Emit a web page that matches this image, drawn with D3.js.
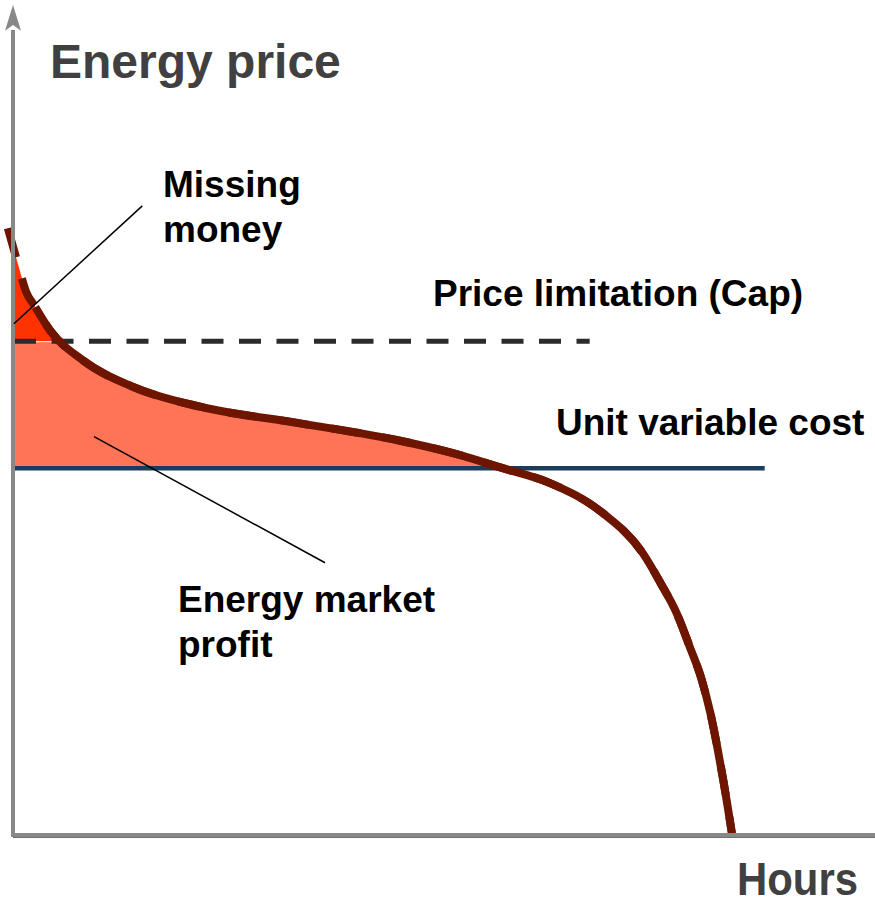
<!DOCTYPE html>
<html>
<head>
<meta charset="utf-8">
<script src="https://cdn.jsdelivr.net/npm/d3@7"></script>
<style>
  body { margin: 0; background: #fff; }
  text { font-family: "Liberation Sans", Arial, sans-serif; font-weight: bold; }
</style>
</head>
<body>
<svg id="chart" width="875" height="900"></svg>
<script>
// Price duration curve (hours on x, price on y, both in arbitrary 0-100 units)
var hours = [-0.6, 0.6, 1.5, 2.6, 4.3, 8.1, 13.9, 21.7, 33.3, 44.9, 50.7, 56.8, 62.3, 68.4, 73.1, 75.1, 77.0, 78.5, 79.9, 80.9, 81.7, 82.4, 83.4];
var price = [73.1, 68.7, 65.5, 63.6, 60.8, 57.2, 54.0, 51.6, 49.6, 47.5, 46.1, 44.2, 42.4, 38.8, 33.9, 30.4, 26.7, 22.7, 18.7, 14.7, 10.6, 6.6, 0.2];

// Horizontal reference levels
var capPrice = 59.5;
var capEnd = 66.9;
var costPrice = 44.2;
var costEnd = 87.2;

// Leader lines: [hour1, price1, hour2, price2]
var missingLeader = [0.1, 61.6, 15.0, 75.8];
var profitLeader = [9.4, 48.0, 36.2, 32.8];

var width = 875, height = 900;
var svg = d3.select("#chart");

var x = d3.scaleLinear().domain([0, 100]).range([13, 875]);
var y = d3.scaleLinear().domain([0, 100]).range([835, 5]);

var pts = hours.map((h, i) => [h, price[i]]);

var line = d3.line()
  .x(d => x(d[0]))
  .y(d => y(d[1]))
  .curve(d3.curveMonotoneX);

var under = d3.area()
  .x(d => x(d[0]))
  .y0(y(0))
  .y1(d => y(d[1]))
  .curve(d3.curveMonotoneX);

// clip = everything below the price curve
svg.append("defs").append("clipPath")
  .attr("id", "underCurve")
  .append("path")
  .attr("d", under(pts));

var fills = svg.append("g").attr("clip-path", "url(#underCurve)");

// Energy market profit: between variable cost and min(curve, cap)
fills.append("rect")
  .attr("x", x(0) + 2)
  .attr("y", y(capPrice) + 1)
  .attr("width", x(costEnd) - x(0) - 2)
  .attr("height", y(costPrice) - y(capPrice) - 1)
  .attr("fill", "#ff7356");

// Missing money: above the cap
fills.append("rect")
  .attr("x", x(0) + 2)
  .attr("y", y(100))
  .attr("width", x(20) - x(0))
  .attr("height", y(capPrice) - y(100))
  .attr("fill", "#ff3300");

// Unit variable cost line
svg.append("line")
  .attr("x1", x(0) + 2).attr("x2", x(costEnd))
  .attr("y1", y(costPrice)).attr("y2", y(costPrice))
  .attr("stroke", "#1b3d5c")
  .attr("stroke-width", 4.5);

// Price cap (dashed)
svg.append("line")
  .attr("x1", x(0) + 1).attr("x2", x(capEnd))
  .attr("y1", y(capPrice)).attr("y2", y(capPrice))
  .attr("stroke", "#2b2b2b")
  .attr("stroke-width", 5)
  .attr("stroke-dasharray", "22,15.5");

// Price curve: dashed copy underneath + solid body
svg.append("path")
  .attr("d", line(pts))
  .attr("fill", "none")
  .attr("stroke", "#6e1500")
  .attr("stroke-width", 8)
  .attr("stroke-dasharray", "30,22");

svg.append("path")
  .attr("d", line(pts.filter(d => d[0] >= 2.6)))
  .attr("fill", "none")
  .attr("stroke", "#6e1500")
  .attr("stroke-width", 8);

// Axes
var axisColor = "#888";
svg.append("line")
  .attr("x1", x(0)).attr("x2", x(0))
  .attr("y1", y(0) + 2).attr("y2", y(97))
  .attr("stroke", axisColor).attr("stroke-width", 4);
svg.append("path")
  .attr("d", `M${x(0)},${y(100)}L${x(0) + 8},${y(96.9)}L${x(0)},${y(97.6)}L${x(0) - 8},${y(96.9)}Z`)
  .attr("fill", axisColor);
svg.append("line")
  .attr("x1", x(0) - 2).attr("x2", x(100))
  .attr("y1", y(0)).attr("y2", y(0))
  .attr("stroke", axisColor).attr("stroke-width", 4);
svg.append("line")
  .attr("x1", x(0)).attr("x2", x(100))
  .attr("y1", y(0) + 2.5).attr("y2", y(0) + 2.5)
  .attr("stroke", "#6f6f6f").attr("stroke-width", 1);

// Leader lines
[missingLeader, profitLeader].forEach(l => {
  svg.append("line")
    .attr("x1", x(l[0])).attr("y1", y(l[1]))
    .attr("x2", x(l[2])).attr("y2", y(l[3]))
    .attr("stroke", "#000")
    .attr("stroke-width", 1.5);
});

// Text
svg.append("text").attr("x", 50).attr("y", 78)
  .attr("font-size", 48).attr("fill", "#404040")
  .text("Energy price");

svg.append("text").attr("x", 858).attr("y", 895)
  .attr("font-size", 46).attr("fill", "#404040")
  .attr("text-anchor", "end")
  .attr("textLength", 121).attr("lengthAdjust", "spacingAndGlyphs")
  .text("Hours");

function label(lines, lx, ly, lh) {
  var t = svg.append("text").attr("font-size", 37).attr("fill", "#000");
  lines.forEach((s, i) => {
    t.append("tspan").attr("x", lx).attr("y", ly + i * lh).text(s);
  });
}

label(["Missing", "money"], 163, 197, 45);
label(["Price limitation (Cap)"], 433, 306, 0);
label(["Unit variable cost"], 556, 435, 0);
label(["Energy market", "profit"], 178, 612, 45);
</script>
</body>
</html>
